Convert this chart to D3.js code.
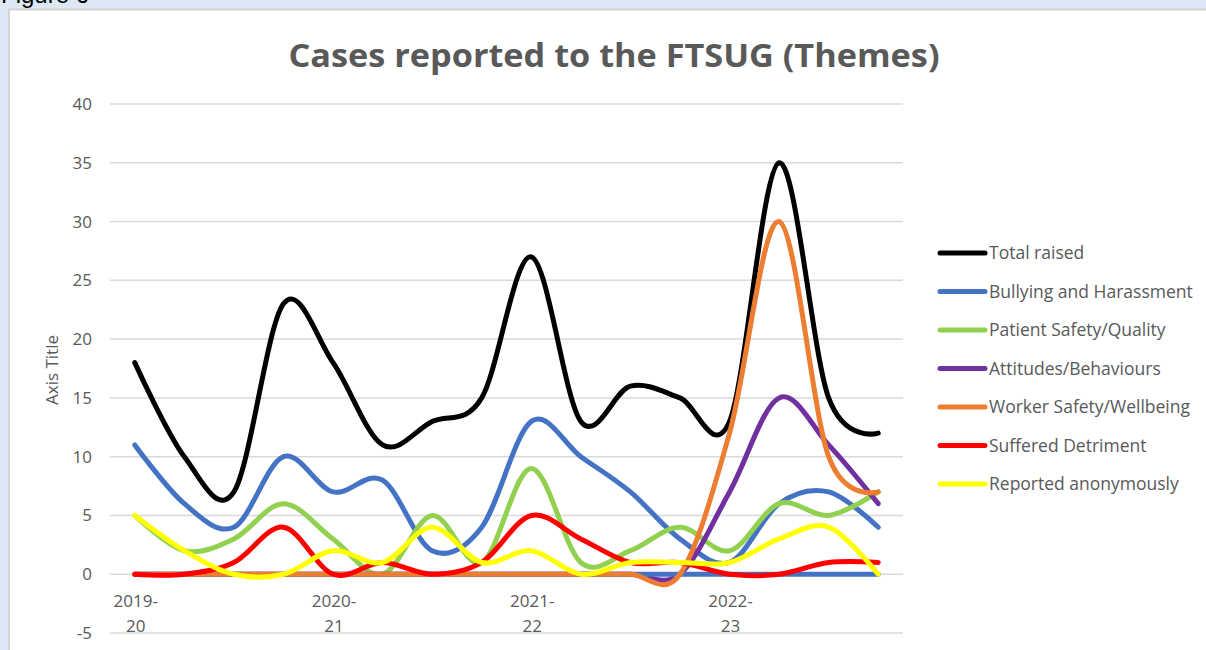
<!DOCTYPE html>
<meta charset="utf-8">
<style>
body{
    margin: 0;
    background: #dde8f4;
    font-family: "Open Sans", sans-serif;
}
.grid line {
  stroke: #d9d9d9;
  stroke-width: 1.5px;
}
.series {
  fill: none;
  stroke-width: 5px;
  stroke-linecap: round;
  stroke-linejoin: round;
}
</style>
<body>

<div id="chart"></div>

<script src="https://d3js.org/d3.v7.min.js"></script>
<script>

// quarters, labelled once per year
var quarters = ["2019-20 Q1","2019-20 Q2","2019-20 Q3","2019-20 Q4",
                "2020-21 Q1","2020-21 Q2","2020-21 Q3","2020-21 Q4",
                "2021-22 Q1","2021-22 Q2","2021-22 Q3","2021-22 Q4",
                "2022-23 Q1","2022-23 Q2","2022-23 Q3","2022-23 Q4"];
var yearLabels = [["2019-","20"],null,null,null,["2020-","21"],null,null,null,
                  ["2021-","22"],null,null,null,["2022-","23"],null,null,null];

var totalRaised   = [18,10,7,23,18,11,13,15,27,13,16,15,13,35,15,12];
var bullying      = [11,6,4,10,7,8,2,4,13,10,7,3,1,6,7,4];
var patientSafety = [5,2,3,6,3,0,5,1,9,1,2,4,2,6,5,7];
var attitudes     = [0,0,0,0,0,0,0,0,0,0,0,0,7,15,11,6];
var unlabelled    = [0,0,0,0,0,0,0,0,0,0,0,0,0,0,0,0];
var workerSafety  = [0,0,0,0,0,0,0,0,0,0,0,0,12,30,10,7];
var detriment     = [0,0,1,4,0,1,0,1,5,3,1,1,0,0,1,1];
var anonymous     = [5,2,0,0,2,1,4,1,2,0,1,1,1,3,4,0];

var yTicks = [-5,0,5,10,15,20,25,30,35,40];

var series = [
  {name: "Total raised", values: totalRaised, color: "#000000"},
  {name: "Bullying and Harassment", values: bullying, color: "#4472c4"},
  {name: "Patient Safety/Quality", values: patientSafety, color: "#92d050"},
  {name: "Attitudes/Behaviours", values: attitudes, color: "#7030a0"},
  {name: null, values: unlabelled, color: "#4472c4"},
  {name: "Worker Safety/Wellbeing", values: workerSafety, color: "#ed7d31"},
  {name: "Suffered Detriment", values: detriment, color: "#ff0000"},
  {name: "Reported anonymously", values: anonymous, color: "#ffff00"}
];

var W = 1206, H = 650;
var plot = {left: 110, right: 903, top: 104, bottom: 633};

var svg = d3.select("#chart")
  .append("svg")
    .attr("width", W)
    .attr("height", H)
    .style("display", "block");

// figure caption, cut off at the top like the original page
svg.append("text")
    .attr("x", 1)
    .attr("y", 3)
    .style("font-family", "Liberation Sans, sans-serif")
    .style("font-size", "24px")
    .attr("fill", "#000")
    .text("Figure 6");

// white chart area
svg.append("rect")
    .attr("x", 9)
    .attr("y", 9.5)
    .attr("width", W)
    .attr("height", H)
    .attr("fill", "#fff")
    .attr("stroke", "#d4d4d4")
    .attr("stroke-width", 2);

svg.append("text")
    .attr("x", 614)
    .attr("y", 67)
    .attr("text-anchor", "middle")
    .attr("fill", "#595959")
    .style("font-size", "33px")
    .style("font-weight", "bold")
    .attr("textLength", 651)
    .attr("lengthAdjust", "spacingAndGlyphs")
    .text("Cases reported to the FTSUG (Themes)");

var x = d3.scalePoint()
    .domain(quarters)
    .range([plot.left, plot.right])
    .padding(0.5);

var y = d3.scaleLinear()
    .domain([-5, 40])
    .range([plot.bottom, plot.top]);

var grid = svg.append("g").attr("class", "grid");
grid.selectAll("line")
    .data(yTicks)
    .enter()
    .append("line")
      .attr("x1", plot.left)
      .attr("x2", plot.right)
      .attr("y1", function(d) { return y(d); })
      .attr("y2", function(d) { return y(d); });

svg.append("g")
  .selectAll("text")
    .data(yTicks)
    .enter()
    .append("text")
      .attr("x", 92)
      .attr("y", function(d) { return y(d); })
      .attr("dy", "0.35em")
      .attr("text-anchor", "end")
      .attr("fill", "#595959")
      .style("font-size", "17px")
      .text(function(d) { return d; });

svg.append("text")
    .attr("transform", "translate(58,370) rotate(-90)")
    .attr("text-anchor", "middle")
    .attr("fill", "#595959")
    .style("font-size", "17px")
    .text("Axis Title");

var xl = svg.append("g")
  .selectAll("text")
    .data(quarters.filter(function(q, i) { return yearLabels[i]; }))
    .enter()
    .append("text")
      .attr("text-anchor", "middle")
      .attr("fill", "#595959")
      .style("font-size", "17px");
xl.each(function(q) {
  var lab = yearLabels[quarters.indexOf(q)];
  var t = d3.select(this);
  t.append("tspan").attr("x", x(q) + 1).attr("y", 607).text(lab[0]);
  t.append("tspan").attr("x", x(q) + 1).attr("y", 632).text(lab[1]);
});

var line = d3.line()
    .x(function(d, i) { return x(quarters[i]); })
    .y(function(d) { return y(d); })
    .curve(d3.curveCatmullRom.alpha(0));

svg.append("g")
  .selectAll("path")
    .data(series)
    .enter()
    .append("path")
      .attr("class", "series")
      .attr("stroke", function(d) { return d.color; })
      .attr("d", function(d) { return line(d.values); });

// legend
var legendItems = series.filter(function(d) { return d.name; });
var lg = svg.append("g")
  .selectAll("g")
    .data(legendItems)
    .enter()
    .append("g")
      .attr("transform", function(d, i) { return "translate(940," + (253 + i * 38.5) + ")"; });
lg.append("line")
    .attr("x1", 0)
    .attr("x2", 45)
    .attr("stroke", function(d) { return d.color; })
    .attr("stroke-width", 5)
    .attr("stroke-linecap", "round");
lg.append("text")
    .attr("x", 49)
    .attr("dy", "0.35em")
    .attr("fill", "#595959")
    .style("font-size", "17.5px")
    .text(function(d) { return d.name; });

</script>
</body>
